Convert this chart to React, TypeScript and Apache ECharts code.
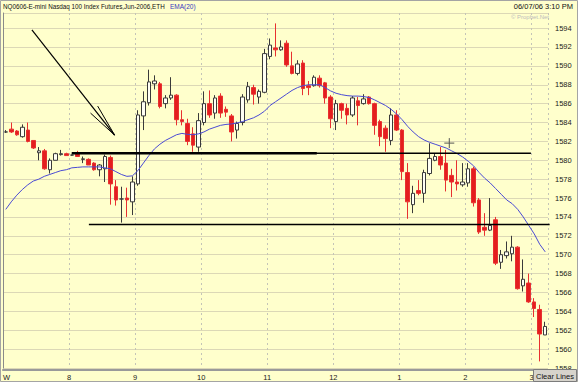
import React, { useEffect, useRef } from "react";
import * as echarts from "echarts";

// ---- data ---------------------------------------------------------------
// 5-minute bars, [open, close, low, high]
const bars: [number, number, number, number][] = [
  [1583.0, 1583.0, 1582.9, 1583.2], [1583.3, 1583.0, 1582.9, 1584.0], [1583.1, 1582.7, 1582.6, 1583.2],
  [1582.5, 1583.5, 1582.4, 1583.8], [1583.2, 1582.0, 1581.9, 1584.0], [1582.1, 1581.3, 1581.2, 1582.1],
  [1580.8, 1581.0, 1580.0, 1581.4], [1581.0, 1579.1, 1579.0, 1581.2], [1579.0, 1580.0, 1578.6, 1580.2],
  [1580.0, 1580.7, 1580.0, 1580.8], [1580.6, 1580.7, 1580.5, 1581.1], [1580.7, 1580.5, 1580.5, 1580.8],
  [1580.55, 1580.55, 1580.5, 1580.6], [1580.8, 1580.4, 1580.4, 1581.0], [1580.1, 1580.15, 1579.7, 1580.4],
  [1580.1, 1579.5, 1579.5, 1580.2], [1579.7, 1579.0, 1578.9, 1579.8], [1579.0, 1579.5, 1578.3, 1579.6],
  [1579.1, 1580.4, 1577.7, 1580.6], [1580.3, 1577.5, 1575.3, 1580.5], [1577.2, 1575.8, 1575.2, 1577.9],
  [1575.9, 1575.9, 1573.4, 1577.2], [1576.0, 1575.8, 1574.0, 1577.1], [1575.6, 1577.7, 1574.2, 1578.3],
  [1577.5, 1584.8, 1577.3, 1585.3], [1584.7, 1586.2, 1583.2, 1587.3], [1586.1, 1588.3, 1585.8, 1589.6],
  [1588.1, 1588.4, 1587.5, 1589.0], [1588.1, 1585.7, 1585.5, 1588.3], [1586.0, 1586.6, 1585.5, 1586.9],
  [1586.6, 1586.9, 1586.4, 1588.8], [1586.9, 1584.3, 1583.7, 1587.0], [1584.3, 1584.1, 1583.7, 1585.3],
  [1583.9, 1582.0, 1581.6, 1584.4], [1582.8, 1581.6, 1580.9, 1583.5], [1581.4, 1584.2, 1580.9, 1585.0],
  [1584.0, 1586.0, 1583.7, 1587.3], [1586.0, 1584.8, 1584.5, 1587.4], [1585.0, 1586.6, 1584.4, 1586.9],
  [1586.8, 1585.0, 1584.5, 1587.1], [1585.4, 1585.1, 1584.6, 1585.7], [1584.7, 1583.0, 1582.0, 1584.9],
  [1583.2, 1583.9, 1582.3, 1584.1], [1584.0, 1586.7, 1583.7, 1587.0], [1586.4, 1587.8, 1586.1, 1588.3],
  [1587.7, 1587.0, 1585.9, 1588.0], [1586.7, 1587.3, 1586.0, 1587.5], [1587.2, 1591.3, 1587.1, 1591.8],
  [1591.0, 1592.2, 1590.7, 1592.9], [1591.9, 1591.7, 1591.0, 1594.5], [1591.7, 1592.0, 1591.6, 1592.7],
  [1592.4, 1590.1, 1589.9, 1592.7], [1590.0, 1589.2, 1589.1, 1591.5], [1589.2, 1590.2, 1589.0, 1590.6],
  [1590.3, 1587.6, 1586.9, 1590.6], [1587.9, 1587.7, 1586.9, 1588.4], [1587.9, 1588.8, 1587.8, 1589.0],
  [1588.7, 1587.9, 1587.7, 1589.0], [1588.2, 1586.6, 1586.0, 1588.3], [1586.7, 1584.4, 1583.4, 1586.9],
  [1584.1, 1586.0, 1583.2, 1586.4], [1586.0, 1585.3, 1584.4, 1586.1], [1585.5, 1584.8, 1583.8, 1586.0],
  [1584.8, 1586.6, 1584.6, 1586.8], [1586.3, 1585.8, 1583.7, 1586.7], [1586.0, 1586.5, 1585.9, 1587.0],
  [1586.7, 1586.0, 1585.9, 1586.8], [1586.0, 1583.7, 1582.7, 1586.1], [1584.1, 1582.5, 1581.5, 1584.3],
  [1583.4, 1582.3, 1580.9, 1583.7], [1582.1, 1584.8, 1581.6, 1585.5], [1584.8, 1583.2, 1583.1, 1585.3],
  [1583.2, 1578.8, 1577.9, 1583.3], [1578.7, 1575.6, 1573.8, 1579.7], [1575.3, 1576.5, 1574.4, 1577.3],
  [1576.8, 1576.5, 1576.3, 1577.9], [1576.5, 1578.7, 1575.5, 1579.0], [1578.6, 1580.2, 1578.4, 1581.8],
  [1580.0, 1580.4, 1579.9, 1580.7], [1580.4, 1579.5, 1579.0, 1581.4], [1579.7, 1577.9, 1576.7, 1581.1],
  [1578.4, 1577.7, 1576.1, 1579.1], [1577.7, 1577.5, 1576.8, 1580.0], [1577.4, 1577.7, 1577.2, 1579.7],
  [1577.6, 1579.1, 1577.2, 1579.7], [1579.1, 1575.5, 1575.1, 1579.3], [1575.8, 1572.4, 1572.2, 1576.0],
  [1572.9, 1572.6, 1572.0, 1574.4], [1572.6, 1573.1, 1572.5, 1576.0], [1573.7, 1569.1, 1568.9, 1574.0],
  [1569.2, 1570.0, 1568.5, 1570.5], [1569.9, 1570.3, 1569.6, 1571.4], [1570.1, 1570.8, 1569.3, 1572.0],
  [1570.8, 1566.4, 1566.3, 1570.9], [1566.7, 1567.4, 1566.1, 1569.5], [1567.0, 1565.0, 1564.9, 1568.0],
  [1565.0, 1564.3, 1563.4, 1565.4], [1564.2, 1561.6, 1558.7, 1564.7], [1561.5, 1562.4, 1561.5, 1562.9],
];

const ema20: number[] = [
  1574.8, 1575.6, 1576.3, 1576.9, 1577.4, 1577.8, 1578.0, 1578.3, 1578.5, 1578.7,
  1578.9, 1579.0, 1579.2, 1579.25, 1579.3, 1579.3, 1579.3, 1579.3, 1579.2, 1579.1,
  1578.8, 1578.5, 1578.3, 1578.35, 1578.9, 1579.7, 1580.5, 1581.2, 1581.7, 1582.1,
  1582.4, 1582.7, 1582.85, 1582.75, 1582.7, 1582.8, 1583.0, 1583.3, 1583.5, 1583.7,
  1583.8, 1583.85, 1583.95, 1584.1, 1584.3, 1584.5, 1584.8, 1585.2, 1585.8, 1586.2,
  1586.6, 1587.0, 1587.4, 1587.7, 1587.9, 1588.0, 1588.0, 1588.0, 1587.7, 1587.35,
  1587.1, 1586.95, 1586.85, 1586.8, 1586.8, 1586.75, 1586.65, 1586.4, 1586.1, 1585.8,
  1585.4, 1584.9, 1584.3, 1583.6, 1583.0, 1582.5, 1582.15, 1581.9, 1581.7, 1581.5,
  1581.3, 1581.0, 1580.7, 1580.35, 1579.9, 1579.4, 1578.7, 1578.1, 1577.6, 1577.0,
  1576.4, 1575.8, 1575.4, 1574.8, 1574.0, 1573.1, 1572.2, 1571.1, 1570.3,
];

const START_MINUTES = 7 * 60;
const BAR_MINUTES = 5;
const times: string[] = bars.map((_, i) => {
  const m = START_MINUTES + i * BAR_MINUTES;
  return `${String(Math.floor(m / 60)).padStart(2, "0")}:${String(m % 60).padStart(2, "0")}`;
});

const hourTickLabels = ["W", "8", "9", "10", "11", "12", "1", "2", "3"];
const BARS_PER_HOUR = 12;
const SLOT_COUNT = 99;

const PRICE_MIN = 1558;
const PRICE_MAX = 1595.6;
const PRICE_STEP = 2;

// drawn annotations, in (bar slot, price) units
const levelLines = [
  { from: 12.5, to: 57.0, price: 1580.75, width: 2.4 },
  { from: 12.5, to: 95.9, price: 1580.75, width: 1.6 },
  { from: 15.6, to: 99.3, price: 1573.2, width: 1.6 },
];
const arrowShaft = { from: [5.25, 1593.8], to: [20.27, 1582.67] };
const arrowHeads = [[15.9, 1585.0], [17.2, 1585.74]];
const crossMark = [81.07, 1581.82];

const titleText = "NQ0606-E-mini Nasdaq 100 Index Futures,Jun-2006,ETH";
const studyText = "EMA(20)";
const stampText = "06/07/06 3:10 PM";

const FONT = "Liberation Sans";

export default function App() {
  const ref = useRef<HTMLDivElement>(null);

  useEffect(() => {
    document.body.style.margin = "0";
    if (!ref.current) return;
    const chart = echarts.init(ref.current, undefined, { renderer: "svg" });

    const px = (p: number[]) =>
      chart.convertToPixel({ xAxisIndex: 1, yAxisIndex: 0 }, p) as number[];

    chart.setOption({
      animation: false,
      backgroundColor: "#FFFFCC",
      grid: { left: 1, right: 30, top: 13, bottom: 14, containLabel: false },
      xAxis: [
        {
          type: "category",
          data: times,
          boundaryGap: true,
          axisLine: { show: false },
          axisTick: { show: false },
          axisLabel: { show: false },
          splitLine: { show: false },
        },
        {
          type: "value",
          min: 0,
          max: SLOT_COUNT,
          interval: BARS_PER_HOUR,
          position: "bottom",
          offset: 2,
          axisLine: { show: true, onZero: false, lineStyle: { color: "#9A9A9A", width: 2 } },
          axisTick: { show: false },
          axisLabel: {
            margin: 3,
            fontSize: 7.5,
            fontFamily: FONT,
            color: "#1A1A1A",
            alignMinLabel: "left",
            formatter: (v: number) => {
              const k = v / BARS_PER_HOUR;
              return Number.isInteger(k) && hourTickLabels[k] !== undefined ? hourTickLabels[k] : "";
            },
          },
          splitLine: { show: true, lineStyle: { type: [2, 3], color: "#C4C4B8", width: 1 } },
        },
      ],
      yAxis: {
        type: "value",
        position: "right",
        min: PRICE_MIN,
        max: PRICE_MAX,
        interval: PRICE_STEP,
        offset: 3,
        axisLine: { show: true, lineStyle: { color: "#8A8A8A", width: 1 } },
        axisTick: { show: false },
        axisLabel: {
          margin: 4,
          fontSize: 7.5,
          fontFamily: FONT,
          color: "#1A1A1A",
          formatter: (v: number) =>
            Number.isInteger(v) && (v - PRICE_MIN) % PRICE_STEP === 0 ? String(v) : "",
        },
        splitLine: { show: true, lineStyle: { color: "#DCD8B6", width: 1 } },
      },
      series: [
        {
          type: "candlestick",
          name: "NQ",
          data: bars,
          xAxisIndex: 0,
          yAxisIndex: 0,
          barWidth: 4,
          silent: true,
          itemStyle: {
            color: "#FFFFF4",
            color0: "#E41E1E",
            borderColor: "#3A3A3A",
            borderColor0: "#E83030",
            borderWidth: 1,
          },
        },
        {
          type: "line",
          name: "EMA(20)",
          data: ema20,
          xAxisIndex: 0,
          yAxisIndex: 0,
          symbol: "none",
          showSymbol: false,
          smooth: false,
          silent: true,
          z: 10,
          lineStyle: { color: "#4A4AD4", width: 1 },
        },
      ],
    });

    const graphics: any[] = [];
    const seg = (a: number[], b: number[], stroke: string, lineWidth: number) =>
      graphics.push({
        type: "line",
        z: 100,
        silent: true,
        shape: { x1: a[0], y1: a[1], x2: b[0], y2: b[1] },
        style: { stroke, lineWidth, fill: "none" },
      });

    levelLines.forEach((l) => seg(px([l.from, l.price]), px([l.to, l.price]), "#000", l.width));
    const tip = px(arrowShaft.to);
    seg(px(arrowShaft.from), tip, "#000", 1.2);
    arrowHeads.forEach((h) => seg(px(h), tip, "#000", 1));
    const c = px(crossMark);
    seg([c[0] - 5, c[1]], [c[0] + 5, c[1]], "#555", 1);
    seg([c[0], c[1] - 5], [c[0], c[1] + 5], "#555", 1);

    // header texts
    graphics.push(
      {
        type: "text", x: 3, y: 6, z: 100,
        style: { text: titleText, fill: "#111", fontSize: 6.3, fontFamily: FONT, verticalAlign: "middle" },
      },
      {
        type: "text", x: 170, y: 6, z: 100,
        style: { text: studyText, fill: "#3838C0", fontSize: 6.5, fontFamily: FONT, verticalAlign: "middle" },
      },
      {
        type: "text", x: 573, y: 6, z: 100,
        style: { text: stampText, fill: "#111", fontSize: 7.5, fontFamily: FONT, align: "right", verticalAlign: "middle" },
      },
      {
        type: "text", x: 549, y: 17, z: 100,
        style: { text: "© Prophet.Net", fill: "#BCBCBC", fontSize: 6, fontFamily: FONT, align: "right", verticalAlign: "middle" },
      },
      {
        type: "rect", z: 100,
        shape: { x: 533.5, y: 369.5, width: 43, height: 12 },
        style: { fill: "#D6D3CB", stroke: "#7C7C7C", lineWidth: 1 },
      },
      {
        type: "text", x: 555, y: 376, z: 101,
        style: { text: "Clear Lines", fill: "#111", fontSize: 7.5, fontFamily: FONT, align: "center", verticalAlign: "middle" },
      },
      {
        type: "rect", z: 99, silent: true,
        shape: { x: 0.5, y: 0.5, width: 577, height: 381 },
        style: { fill: "none", stroke: "#A4A4A4", lineWidth: 1 },
      }
    );

    chart.setOption({ graphic: graphics });

    return () => chart.dispose();
  }, []);

  return <div ref={ref} style={{ width: 578, height: 382 }} />;
}
